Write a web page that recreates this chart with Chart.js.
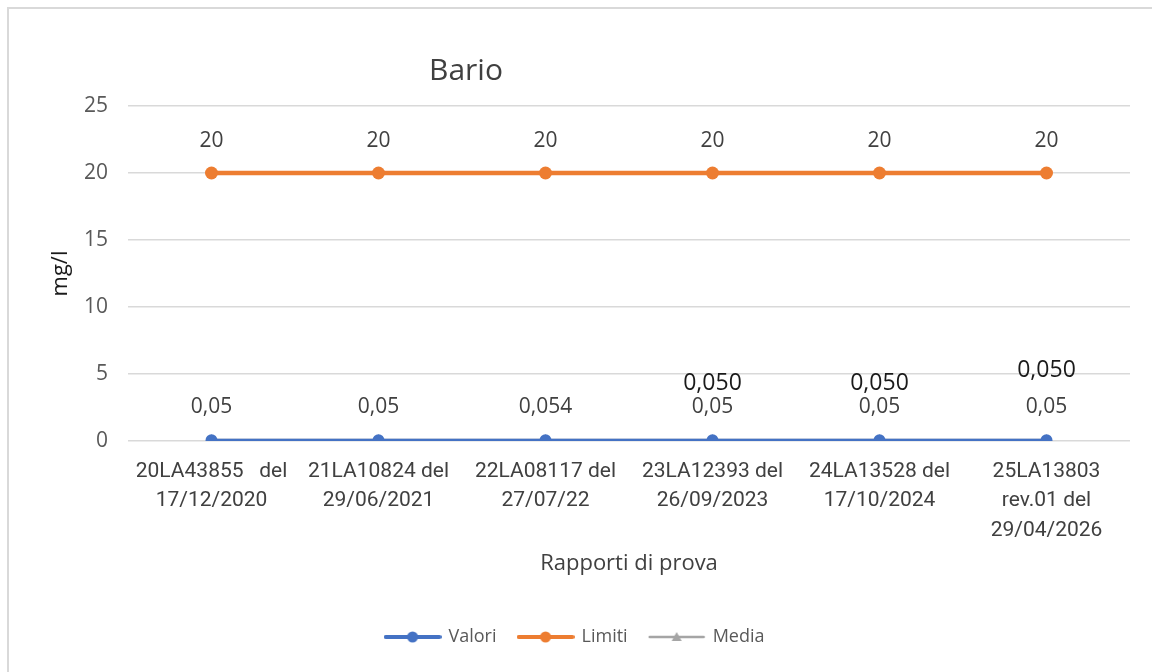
<!DOCTYPE html>
<html>
<head>
<meta charset="utf-8">
<script src="https://cdn.jsdelivr.net/npm/chart.js@4"></script>
<style>
  html, body { margin: 0; padding: 0; background: #fff; }
  #wrap { position: relative; width: 1152px; height: 672px; overflow: hidden; }
  #frame { position: absolute; left: 7px; top: 7px; width: 1160px; height: 680px; border: 2px solid #d9d9d9; box-sizing: border-box; pointer-events: none; }
  canvas { position: absolute; left: 0; top: 0; }
</style>
</head>
<body>
<div id="wrap">
  <canvas id="c" width="1152" height="672"></canvas>
  <div id="frame"></div>
</div>
<script>
const categories = [
  ["20LA43855   del", "17/12/2020"],
  ["21LA10824 del", "29/06/2021"],
  ["22LA08117 del", "27/07/22"],
  ["23LA12393 del", "26/09/2023"],
  ["24LA13528 del", "17/10/2024"],
  ["25LA13803", "rev.01 del", "29/04/2026"]
];
const valori = [0.05, 0.05, 0.054, 0.05, 0.05, 0.05];
const limiti = [20, 20, 20, 20, 20, 20];
const media = [0.05, 0.05, 0.05, 0.05, 0.05, 0.05];
const valoriLabels = ["0,05", "0,05", "0,054", "0,05", "0,05", "0,05"];
const limitiLabels = ["20", "20", "20", "20", "20", "20"];
const mediaLabels = [null, null, null, "0,050", "0,050", "0,050"];
const yTicks = [0, 5, 10, 15, 20, 25];
const chartTitle = "Bario";
const xTitle = "Rapporti di prova";
const yTitle = "mg/l";

const FONT = "'Open Sans', 'Noto Sans', sans-serif";
const NARROW = "Roboto, 'Open Sans', sans-serif";

function legendIcon(color, shape) {
  const c = document.createElement('canvas');
  c.width = 58; c.height = 14;
  const x = c.getContext('2d');
  x.strokeStyle = color; x.fillStyle = color;
  x.lineWidth = shape === 'triangle' ? 2.5 : 4;
  x.lineCap = 'round';
  x.beginPath(); x.moveTo(2, 7); x.lineTo(56, 7); x.stroke();
  x.beginPath();
  if (shape === 'circle') { x.arc(29, 7, 5.5, 0, Math.PI * 2); }
  else { x.moveTo(29, 2); x.lineTo(34, 11); x.lineTo(24, 11); x.closePath(); }
  x.fill();
  return c;
}

const labelPlugin = {
  id: 'pointLabels',
  afterDatasetsDraw(chart) {
    const ctx = chart.ctx;
    chart.data.datasets.forEach((ds, di) => {
      const cfg = ds.pointLabels;
      if (!cfg) return;
      const meta = chart.getDatasetMeta(di);
      meta.data.forEach((pt, i) => {
        const txt = cfg.texts[i];
        if (txt == null) return;
        const off = Array.isArray(cfg.offsetY) ? cfg.offsetY[i] : cfg.offsetY;
        ctx.save();
        ctx.font = cfg.font;
        ctx.fillStyle = cfg.color;
        ctx.textAlign = 'center';
        ctx.textBaseline = 'middle';
        ctx.fillText(txt, pt.x, pt.y + off);
        ctx.restore();
      });
    });
  },
  afterDraw(chart) {
    const ctx = chart.ctx;
    ctx.save();
    ctx.font = "30px " + FONT;
    ctx.fillStyle = '#404040';
    ctx.textAlign = 'center';
    ctx.textBaseline = 'middle';
    ctx.fillText(chartTitle, 466, 71);
    ctx.restore();
  }
};

new Chart(document.getElementById('c'), {
  type: 'line',
  data: {
    labels: categories,
    datasets: [
      {
        label: 'Valori', data: valori,
        borderColor: '#4472C4', backgroundColor: '#4472C4',
        borderWidth: 3, pointRadius: 6, pointStyle: 'circle',
        pointBackgroundColor: '#4472C4', pointBorderWidth: 0,
        legendIcon: legendIcon('#4472C4', 'circle'),
        pointLabels: { texts: valoriLabels, offsetY: -33, font: "21px " + FONT, color: '#404040' },
        order: 0
      },
      {
        label: 'Limiti', data: limiti,
        borderColor: '#ED7D31', backgroundColor: '#ED7D31',
        borderWidth: 4.5, pointRadius: 6.5, pointStyle: 'circle',
        pointBackgroundColor: '#ED7D31', pointBorderWidth: 0,
        legendIcon: legendIcon('#ED7D31', 'circle'),
        pointLabels: { texts: limitiLabels, offsetY: -32, font: "21px " + FONT, color: '#404040' },
        order: 2
      },
      {
        label: 'Media', data: media,
        borderColor: '#A5A5A5', backgroundColor: '#A5A5A5',
        borderWidth: 3, pointRadius: 6, pointStyle: 'triangle',
        pointBackgroundColor: '#A5A5A5', pointBorderWidth: 0,
        legendIcon: legendIcon('#A5A5A5', 'triangle'),
        pointLabels: { texts: mediaLabels, offsetY: [0, 0, 0, -57, -57, -70], font: "23px " + FONT, color: '#1a1a1a' },
        order: 1
      }
    ]
  },
  options: {
    responsive: false,
    animation: false,
    layout: { padding: { left: 20, right: 22, top: 106, bottom: 16 } },
    plugins: {
      title: { display: false },
      tooltip: { enabled: false },
      legend: {
        position: 'bottom',
        labels: {
          usePointStyle: true,
          pointStyleWidth: 54,
          boxHeight: 14,
          padding: 22,
          color: '#595959',
          font: { family: FONT, size: 18 },
          generateLabels(chart) {
            return chart.data.datasets.map((ds, i) => ({
              text: ds.label,
              pointStyle: ds.legendIcon,
              fillStyle: ds.borderColor,
              strokeStyle: ds.borderColor,
              lineWidth: 0,
              fontColor: '#595959',
              hidden: false,
              datasetIndex: i
            }));
          }
        }
      }
    },
    scales: {
      x: {
        offset: true,
        grid: { display: false, drawTicks: false, offset: true },
        border: { display: false },
        ticks: {
          color: '#404040', padding: 16, maxRotation: 0, autoSkip: false,
          font: { family: NARROW, size: 21, lineHeight: 1.4 }
        },
        title: {
          display: true, text: xTitle, color: '#404040',
          font: { family: FONT, size: 22 }, padding: { top: 10, bottom: 29 }
        },
        afterFit(s) { s.height = 165; }
      },
      y: {
        min: 0, max: 25,
        afterBuildTicks(s) { s.ticks = yTicks.map(v => ({ value: v })); },
        grid: { color: '#d9d9d9', lineWidth: 1.5, drawTicks: false },
        border: { display: false },
        ticks: { color: '#595959', padding: 20, font: { family: FONT, size: 21 } },
        title: {
          display: true, text: yTitle, color: '#1a1a1a',
          font: { family: FONT, size: 22 }, padding: { top: 28, bottom: 0 }
        },
        afterFit(s) { s.width = 108; }
      }
    }
  },
  plugins: [labelPlugin]
});
</script>
</body>
</html>
